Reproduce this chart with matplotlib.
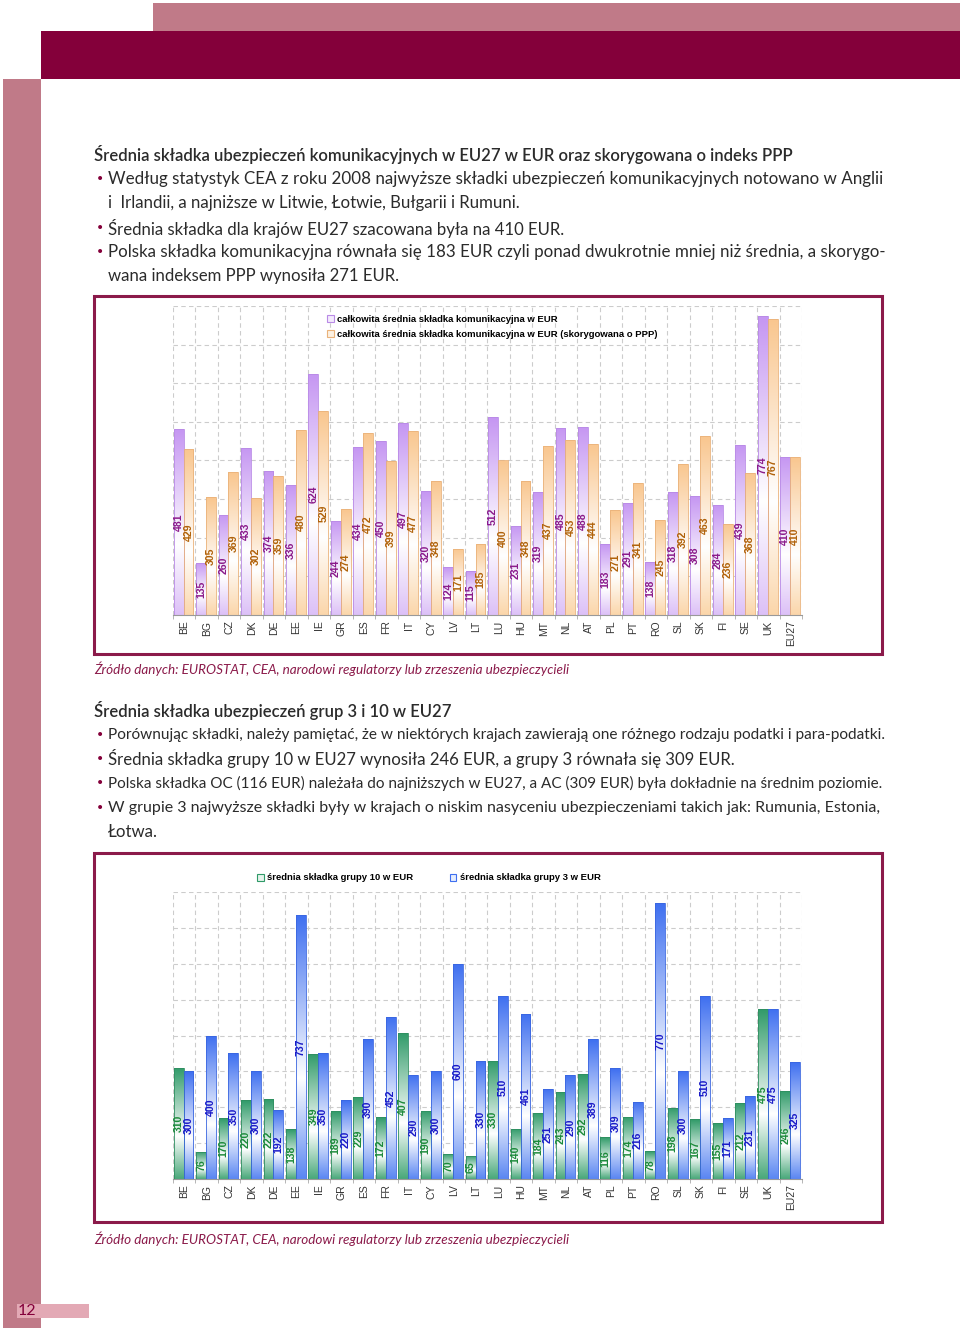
import numpy as np
import matplotlib.pyplot as plt
from matplotlib.patches import Rectangle, Patch
from matplotlib.colors import LinearSegmentedColormap

countries = ['BE', 'BG', 'CZ', 'DK', 'DE', 'EE', 'IE', 'GR', 'ES', 'FR', 'IT', 'CY', 'LV', 'LT',
             'LU', 'HU', 'MT', 'NL', 'AT', 'PL', 'PT', 'RO', 'SL', 'SK', 'FI', 'SE', 'UK', 'EU27']
total_eur = [481, 135, 260, 433, 374, 336, 624, 244, 434, 450, 497, 320, 124, 115,
             512, 231, 319, 485, 488, 183, 291, 138, 318, 308, 284, 439, 774, 410]
total_ppp = [429, 305, 369, 302, 359, 480, 529, 274, 472, 399, 477, 348, 171, 185,
             400, 348, 437, 453, 444, 271, 341, 245, 392, 463, 236, 368, 767, 410]
group10 = [310, 76, 170, 220, 222, 138, 349, 189, 229, 172, 407, 190, 70, 65,
           330, 140, 184, 243, 292, 116, 174, 78, 198, 167, 155, 212, 475, 246]
group3 = [300, 400, 350, 300, 192, 737, 350, 220, 390, 452, 290, 300, 600, 330,
          510, 461, 251, 290, 389, 309, 216, 770, 300, 510, 171, 231, 475, 325]

legend1 = ['całkowita średnia składka komunikacyjna w EUR',
           'całkowita średnia składka komunikacyjna w EUR (skorygowana o PPP)']
legend2 = ['średnia składka grupy 10 w EUR', 'średnia składka grupy 3 w EUR']

W, H = 960, 1330
BODY = 'Lato'
MAROON = '#84003a'
PINK = '#c07a88'
TXT = '#2b2b2b'

fig = plt.figure(figsize=(W / 100, H / 100), dpi=100)


def fx(x):
    return x / W


def fy(y):
    return 1 - y / H


def rect(x0, y0, x1, y1, **kw):
    fig.patches.append(Rectangle((fx(x0), fy(y1)), (x1 - x0) / W, (y1 - y0) / H,
                                 transform=fig.transFigure, zorder=-1, **kw))


# page decoration
rect(153, 3, 960, 31, color=PINK, lw=0)
rect(41, 31, 960, 79, color=MAROON, lw=0)
rect(3, 79, 41, 1328, color=PINK, lw=0)
rect(17, 1304, 89, 1318, color='#e3a9b5', lw=0)
fig.text(fx(18), fy(1311), '12', fontsize=11.5, family=BODY, color=MAROON, va='center')

# chart frames
rect(94, 296, 882, 654, facecolor='white', edgecolor='#8b1a4a', lw=2.2)
rect(94, 853, 882, 1222, facecolor='white', edgecolor='#8b1a4a', lw=2.2)


def line(y, s, bullet=False, x=108, size=12.1, **kw):
    if bullet:
        fig.text(fx(96), fy(y), '•', fontsize=10, color=MAROON, va='center', family='DejaVu Sans')
    fig.text(fx(x), fy(y), s, fontsize=size, family=BODY, color=TXT, va='center', **kw)


line(155, 'Średnia składka ubezpieczeń komunikacyjnych w EU27 w EUR oraz skorygowana o indeks PPP',
     x=94, size=12.0, fontweight='semibold')
line(179, 'Według statystyk CEA z roku 2008 najwyższe składki ubezpieczeń komunikacyjnych notowano w Anglii',
     True, size=12.25)
line(203, 'i  Irlandii, a najniższe w Litwie, Łotwie, Bułgarii i Rumuni.')
line(228, 'Średnia składka dla krajów EU27 szacowana była na 410 EUR.', True)
line(252, 'Polska składka komunikacyjna równała się 183 EUR czyli ponad dwukrotnie mniej niż średnia, a skorygo-',
     True, size=12.15)
line(276, 'wana indeksem PPP wynosiła 271 EUR.')

src = 'Źródło danych: EUROSTAT, CEA, narodowi regulatorzy lub zrzeszenia ubezpieczycieli'
fig.text(fx(94), fy(669), src, fontsize=9.75, family=BODY, style='italic', color='#8b1a4a', va='center')
fig.text(fx(94), fy(1239), src, fontsize=9.75, family=BODY, style='italic', color='#8b1a4a', va='center')

line(711, 'Średnia składka ubezpieczeń grup 3 i 10 w EU27', x=94, size=12.0, fontweight='semibold')
line(735, 'Porównując składki, należy pamiętać, że w niektórych krajach zawierają one różnego rodzaju podatki i para-podatki.',
     True, size=11.05)
line(759, 'Średnia składka grupy 10 w EU27 wynosiła 246 EUR, a grupy 3 równała się 309 EUR.', True)
line(783, 'Polska składka OC (116 EUR) należała do najniższych w EU27, a AC (309 EUR) była dokładnie na średnim poziomie.',
     True, size=11.0)
line(808, 'W grupie 3 najwyższe składki były w krajach o niskim nasyceniu ubezpieczeniami takich jak: Rumunia, Estonia,',
     True, size=11.55)
line(832, 'Łotwa.')


def gradient(c_top, c_bot):
    return LinearSegmentedColormap.from_list('g', [(0, c_top), (0.62, 'white'), (1, c_bot)])


grad = np.linspace(0, 1, 256).reshape(-1, 1)


def bar_chart(top, bottom, series, cmaps, edges, lcolors):
    ax = fig.add_axes([fx(173), fy(bottom), 629 / W, (bottom - top) / H])
    ax.patch.set_alpha(0)
    x = np.arange(len(countries))
    for vals, off, cmap, ec, lc in zip(series, [-0.25, 0.19], cmaps, edges, lcolors):
        bars = ax.bar(x + off, vals, width=0.44, facecolor='none', edgecolor=ec, lw=0.6, zorder=3)
        for b, v in zip(bars, vals):
            x0, w = b.get_x(), b.get_width()
            im = ax.imshow(grad, cmap=cmap, extent=[x0, x0 + w, 0, v], aspect='auto',
                           origin='upper', zorder=2, interpolation='bilinear')
            im.set_clip_path(b)
            ax.text(x0 + w / 2, v / 2, str(v), rotation=90, ha='center', va='center',
                    fontsize=7.6, fontweight='bold', color=lc, family='Liberation Sans', zorder=4)
    ax.set_xlim(-0.5, len(countries) - 0.5)
    ax.set_ylim(0, 800)
    ax.set_yticks(range(0, 801, 100))
    ax.set_yticklabels([])
    ax.set_xticks(x)
    ax.set_xticklabels(countries, rotation=90, fontsize=7.5, family='Liberation Sans', color='#333333')
    ax.set_xticks(np.arange(-0.5, len(countries)), minor=True)
    ax.tick_params(axis='y', length=0)
    ax.tick_params(axis='x', which='major', length=0, pad=4)
    ax.tick_params(axis='x', which='minor', length=3, color='#aaaaaa')
    ax.grid(axis='y', which='major', color='#cccccc', ls=(0, (4, 3)), lw=0.8, zorder=0)
    ax.grid(axis='x', which='minor', color='#cccccc', ls=(0, (4, 3)), lw=0.8, zorder=0)
    for s in ['left', 'right', 'top']:
        ax.spines[s].set_visible(False)
    ax.spines['bottom'].set_color('#999999')
    ax.set_axisbelow(True)
    return ax


ax1 = bar_chart(306, 615, [total_eur, total_ppp],
                [gradient('#c596f2', '#dcc0f7'), gradient('#f9c68e', '#fbd6aa')],
                ['#b98ae6', '#eab27a'], ['#8a1a8a', '#b0620a'])
h1 = [Patch(facecolor='#f4ebfd', edgecolor='#b98ae6', lw=0.8),
      Patch(facecolor='#fdf1e2', edgecolor='#eab27a', lw=0.8)]
ax1.legend(h1, legend1, loc='upper left', bbox_to_anchor=((327 - 173) / 629, 1 - 9 / 309),
           frameon=False, borderpad=0, borderaxespad=0, handlelength=0.7, handleheight=0.7,
           handletextpad=0.35, labelspacing=0.6, prop={'family': 'Liberation Sans', 'weight': 'bold', 'size': 6.8})

ax2 = bar_chart(892, 1179, [group10, group3],
                [gradient('#2f9a68', '#49a87a'), gradient('#3e6ff0', '#5a86f2')],
                ['#2f8f60', '#3a66e0'], ['#1c8a3a', '#1a1ac8'])
h2 = [Patch(facecolor='#e6f3ec', edgecolor='#2f9a68', lw=0.8),
      Patch(facecolor='#e6edfd', edgecolor='#3e6ff0', lw=0.8)]
ax2.legend(h2, legend2, loc='center left', bbox_to_anchor=((257 - 173) / 629, 1 + 14 / 287),
           ncol=2, frameon=False, borderpad=0, borderaxespad=0, handlelength=0.7, handleheight=0.7,
           handletextpad=0.35, columnspacing=3.9, prop={'family': 'Liberation Sans', 'weight': 'bold', 'size': 6.8})

fig.savefig('out.png', dpi=100)
